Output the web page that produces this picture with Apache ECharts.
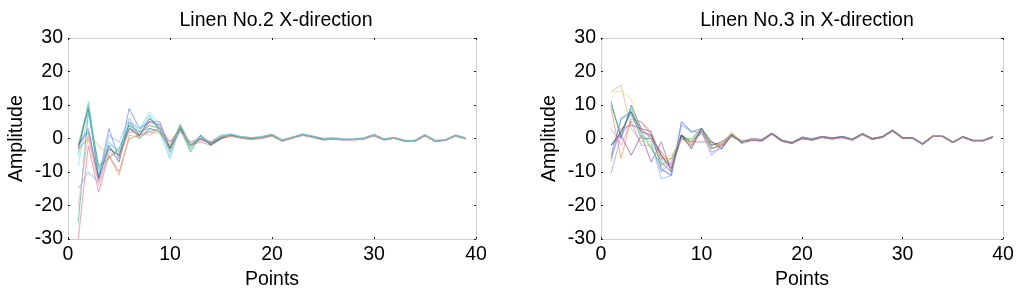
<!DOCTYPE html>
<html>
<head>
<meta charset="utf-8">
<script src="https://cdn.jsdelivr.net/npm/echarts@6/dist/echarts.min.js"></script>
<style>
  html, body { margin: 0; padding: 0; background: #fff; }
  #chart { width: 1024px; height: 295px; }
</style>
</head>
<body>
<div id="chart"></div>
<script>
// sample index along each trace
const points = [1, 2, 3, 4, 5, 6, 7, 8, 9, 10, 11, 12, 13, 14, 15, 16, 17, 18, 19, 20,
  21, 22, 23, 24, 25, 26, 27, 28, 29, 30, 31, 32, 33, 34, 35, 36, 37, 38, 39];

const xTicks = [0, 10, 20, 30, 40];
const yTicks = [-30, -20, -10, 0, 10, 20, 30];

const titleLeft = "Linen No.2 X-direction";
const titleRight = "Linen No.3 in X-direction";

// Linen No.2, X-direction traces
const linen2_a = [-2, 2, -12, 3, -6, 9, 3, 5, 4, -3, 4, -2, 0, -1.5, 0.5, 1.2, 0.3, 0, 0.4, 1.1, -0.5, 0.3, 1.2, 0.6, -0.2, 0, -0.3, -0.2, 0, 1.0, -0.3, 0.2, -0.7, -0.7, 1.0, -0.7, -0.5, 0.9, 0];
const linen2_b = [-2, 10, -9, -3, -5, 3, 1, 4, 3, -4, 3, -3, 1, -2, 0, 1.0, 0.5, 0.2, 0.3, 1.0, -0.6, 0.2, 1.1, 0.5, -0.1, 0.1, -0.3, -0.3, 0.1, 1.1, -0.2, 0.2, -0.6, -0.8, 0.9, -0.7, -0.4, 0.9, 0.1];
const linen2_c = [-30, -2, -16, -5, -10, 0, 1, 2, 3, -1, 3, -2, -1, -2, 0, 0.6, 0.2, -0.3, 0.1, 0.8, -0.8, 0.1, 1.0, 0.4, -0.4, -0.2, -0.4, -0.4, -0.1, 0.8, -0.4, 0.1, -0.8, -0.8, 0.8, -0.8, -0.6, 0.8, -0.1];
const linen2_d = [-5, 11, -11, -1, -4, 4, 2, 7, 2, -6, 4, -2, 0, -1, 1, 1.3, 0.4, 0.1, 0.5, 1.3, -0.5, 0.4, 1.3, 0.6, -0.1, 0.1, -0.2, -0.2, 0.1, 1.2, -0.2, 0.3, -0.6, -0.6, 1.1, -0.6, -0.4, 1.0, 0.1];
const linen2_e = [-3, 9, -12, -2, -7, 5, 1, 6, 3, -3, 3, -2, 0, -1.5, 0, 1.0, 0.3, 0, 0.3, 1.0, -0.6, 0.3, 1.2, 0.5, -0.2, 0, -0.3, -0.3, 0, 1.0, -0.3, 0.2, -0.7, -0.7, 1.0, -0.7, -0.5, 0.9, 0];
const linen2_f = [-4, 1, -2, -5, -4, 2, 2, 4, 3, -2, 3.5, -1.5, 0.5, -1, 0.5, 0.9, 0.5, 0.2, 0.5, 1.4, -0.4, 0.5, 1.0, 0.7, 0, 0.2, -0.1, -0.2, 0.2, 1.1, -0.1, 0.3, -0.5, -0.6, 1.0, -0.6, -0.4, 1.0, 0.2];
const linen2_g = [-2, 3, -12, -3, -5, 3, 1, 5, 5, -3, 4, -2, 0, -1.5, 0.5, 1.1, 0.3, 0.1, 0.3, 0.9, -0.7, 0.3, 1.2, 0.5, -0.3, 0, -0.3, -0.3, 0, 1.0, -0.3, 0.1, -0.7, -0.7, 1.0, -0.8, -0.5, 0.9, 0];
const linen2_h = [-15, -10, -13, 1, -1, 6, 2, 3, 2, -1, 2, -1, 0.5, -1, 0.5, 1.2, 0.6, 0.3, 0.6, 1.2, -0.4, 0.4, 1.4, 0.8, 0.1, 0.2, -0.1, -0.1, 0.2, 1.2, -0.1, 0.3, -0.5, -0.5, 1.2, -0.5, -0.3, 1.1, 0.2];
const linen2_i = [-25, 8, -8, -6, -3, 4, 0, 3, 2, -3, 3, -4, 1, -2, 0, 1.0, 0.2, -0.1, 0.2, 0.9, -0.7, 0.2, 1.1, 0.4, -0.3, -0.1, -0.4, -0.3, -0.1, 0.9, -0.4, 0.1, -0.8, -0.7, 0.9, -0.8, -0.5, 0.8, -0.1];
const linen2_j = [-3, 0, -13, -5, -11, 1, 0.5, 2, 1.5, -2, 4, -2, -0.5, -1.5, 0.5, 0.8, 0.1, -0.2, 0.2, 0.8, -0.6, 0.2, 1.0, 0.4, -0.3, -0.1, -0.3, -0.4, -0.1, 0.9, -0.3, 0.1, -0.7, -0.8, 0.9, -0.7, -0.6, 0.8, 0];
const linen2_k = [-20, 1, -14, -4, -6, 2, 1.5, 1, 3, -4, 2, -1, 0, -1, 1, 0.6, 0.1, -0.4, 0, 0.7, -0.8, 0, 0.9, 0.3, -0.5, -0.2, -0.5, -0.4, -0.2, 0.8, -0.5, 0, -0.8, -0.9, 0.8, -0.8, -0.6, 0.7, -0.1];
const linen2_l = [-8, 8, -10, -2, -3, 5, 3, 8, 4, -5, 4.5, -2, 0.5, -1, 1, 1.4, 0.5, 0.2, 0.5, 1.2, -0.5, 0.4, 1.3, 0.7, 0, 0.1, -0.2, -0.2, 0.1, 1.1, -0.2, 0.3, -0.6, -0.6, 1.1, -0.6, -0.4, 1.0, 0.1];

// Linen No.3, X-direction traces
const linen3_a = [11, 0, 10, 3, 2, -9, -11, 5, 2, 3, -3, -2, 1, -1, -0.5, -0.5, 1.5, -0.6, -1.3, 0.2, -0.3, 0.5, 0, 0.5, -0.3, 1.4, -0.1, 0.5, 2.4, 0.2, 0.2, -1.6, 0.7, 0.7, -1.1, 0.5, -0.6, -0.6, 0.5];
const linen3_b = [14, 16, 3, -1, 1, -6, -6, 1, -2, 3, -2, -1, 1.5, -1, 0, -0.3, 1.6, -0.5, -1.2, 0.3, -0.2, 0.6, 0.1, 0.6, -0.2, 1.5, 0, 0.6, 2.5, 0.3, 0.3, -1.5, 0.8, 0.8, -1.0, 0.6, -0.5, -0.5, 0.6];
const linen3_c = [9, -6, 6, 5, 1, -5, -9, 1, -2, 2, -3, -2, 1, -1, -0.5, -0.7, 1.4, -0.8, -1.4, 0, -0.5, 0.3, -0.2, 0.3, -0.5, 1.2, -0.3, 0.3, 2.3, 0, 0.1, -1.7, 0.6, 0.6, -1.2, 0.4, -0.7, -0.7, 0.4];
const linen3_d = [-2, 1, -5, 1, -7, -1, -10, 1, -1, 2, -2, -1, 1, -1, 0, -0.4, 1.5, -0.6, -1.3, 0.3, -0.2, 0.6, 0.1, 0.4, -0.2, 1.3, 0, 0.5, 2.4, 0.2, 0.2, -1.6, 0.7, 0.7, -1.1, 0.5, -0.6, -0.6, 0.5];
const linen3_e = [-5, 6, 8, 0, 0, -7, -10, 1, -1, 3, -3, -2, 1.5, -1.5, -0.5, -0.6, 1.4, -0.7, -1.4, 0.1, -0.4, 0.4, -0.1, 0.5, -0.4, 1.3, -0.2, 0.4, 2.3, 0.1, 0.1, -1.7, 0.6, 0.6, -1.1, 0.4, -0.6, -0.7, 0.4];
const linen3_f = [-10.5, 1, 5, -2, -2, -10, -7, 0, -1, 2, -5, -2, 1, -1, 0, -0.2, 1.5, -0.5, -1.1, 0.5, 0, 0.7, 0.2, 0.7, -0.1, 1.4, 0.1, 0.6, 2.5, 0.3, 0.3, -1.5, 0.7, 0.7, -1.0, 0.5, -0.5, -0.5, 0.5];
const linen3_g = [10, 1, 9, 2, -3, -8, -6, 0, 0, 3, -2, -1.5, 0.5, -1, -0.5, -0.5, 1.3, -0.7, -1.5, 0, -0.4, 0.4, 0, 0.4, -0.3, 1.3, -0.1, 0.4, 2.4, 0.2, 0.1, -1.7, 0.7, 0.6, -1.2, 0.5, -0.6, -0.6, 0.5];
const linen3_h = [-6, 3, 4, 3, 0, -4, -8, 0, -1, -1, -1, -2, 1, -0.5, -0.5, -0.8, 1.4, -0.9, -1.5, -0.1, -0.5, 0.3, -0.2, 0.3, -0.5, 1.1, -0.3, 0.3, 2.2, 0.1, 0, -1.7, 0.6, 0.6, -1.2, 0.4, -0.7, -0.7, 0.4];
const linen3_i = [-7, 6, 7, 1, -1, -12, -11, 4, 2, 2, -4, -3, 1, -1, 0, -0.4, 1.6, -0.5, -1.2, 0.4, -0.1, 0.6, 0.2, 0.6, -0.2, 1.5, 0, 0.5, 2.4, 0.3, 0.2, -1.5, 0.8, 0.7, -1.0, 0.6, -0.5, -0.5, 0.6];
const linen3_j = [14, 14, 12, 0, -2, -6, -5, 0, -1, 3, -3, -2, 2, -1, 0, -0.5, 1.5, -0.6, -1.3, 0.2, -0.3, 0.5, 0, 0.5, -0.3, 1.4, -0.1, 0.5, 2.4, 0.2, 0.2, -1.6, 0.7, 0.7, -1.1, 0.5, -0.6, -0.6, 0.5];
const linen3_k = [-2, 2, 8, 2, 1, -5, -9, 1, -3, 3, -1, -3, 1, -1, -0.5, -0.6, 1.5, -0.6, -1.3, 0.2, -0.3, 0.5, 0.1, 0.5, -0.3, 1.4, -0.1, 0.5, 2.5, 0.2, 0.2, -1.6, 0.7, 0.7, -1.1, 0.5, -0.6, -0.6, 0.5];
const linen3_l = [3, -2, 5, 5, 2, -6, -9, 0, -2, 2, -3, -2, 1, -1, -0.5, -0.7, 1.3, -0.8, -1.4, 0, -0.4, 0.4, -0.1, 0.3, -0.4, 1.2, -0.2, 0.4, 2.3, 0.1, 0.1, -1.6, 0.6, 0.6, -1.1, 0.4, -0.7, -0.6, 0.4];

const leftTraces = [linen2_a, linen2_b, linen2_c, linen2_d, linen2_e, linen2_f,
  linen2_g, linen2_h, linen2_i, linen2_j, linen2_k, linen2_l];
const rightTraces = [linen3_a, linen3_b, linen3_c, linen3_d, linen3_e, linen3_f,
  linen3_g, linen3_h, linen3_i, linen3_j, linen3_k, linen3_l];

const leftColors = ["#4f6fe0", "#3cb44b", "#e06080", "#30c8e0", "#3a4a6a", "#b8d060",
  "#9050b0", "#80a8f0", "#20a080", "#d0a050", "#f0a0c0", "#70d8e8"];
const rightColors = ["#3050e0", "#c8b060", "#e08040", "#9040a0", "#209090", "#a080e0",
  "#40c040", "#e05060", "#70a0f0", "#e0e060", "#203080", "#e090b0"];

const FONT = "Arial, 'Liberation Sans', sans-serif";
const FS = 19.5;

function makeSeries(traces, colors, idx) {
  return traces.map(function (vals, i) {
    return {
      type: "line",
      xAxisIndex: idx * 2,
      yAxisIndex: idx * 2,
      symbol: "none",
      silent: true,
      lineStyle: { width: 1.1, color: colors[i], opacity: 0.55 },
      data: points.map(function (p, j) { return [p, vals[j]]; })
    };
  });
}

function xAxes(gridIndex) {
  const base = {
    type: "value", gridIndex: gridIndex, min: xTicks[0], max: xTicks[xTicks.length - 1], interval: 10,
    axisLine: { show: true, onZero: false, lineStyle: { color: "#d0d0d0", width: 1 } },
    axisTick: { show: true, inside: true, length: 2, lineStyle: { color: "#222" } },
    splitLine: { show: false }
  };
  return [
    Object.assign({}, base, {
      position: "bottom",
      name: "Points", nameLocation: "middle", nameGap: 28,
      nameTextStyle: { color: "#000", fontSize: FS, fontFamily: FONT },
      axisLabel: { color: "#000", fontSize: FS, fontFamily: FONT, margin: 6 }
    }),
    Object.assign({}, base, { position: "top", axisLabel: { show: false } })
  ];
}

function yAxes(gridIndex) {
  const base = {
    type: "value", gridIndex: gridIndex, min: yTicks[0], max: yTicks[yTicks.length - 1], interval: 10,
    axisLine: { show: true, onZero: false, lineStyle: { color: "#d0d0d0", width: 1 } },
    axisTick: { show: true, inside: true, length: 2, lineStyle: { color: "#222" } },
    splitLine: { show: false }
  };
  return [
    Object.assign({}, base, {
      position: "left",
      name: "Amplitude", nameLocation: "middle", nameGap: 41, nameRotate: 90,
      nameTextStyle: { color: "#000", fontSize: FS, fontFamily: FONT },
      axisLabel: { color: "#000", fontSize: FS, fontFamily: FONT, margin: 5 }
    }),
    Object.assign({}, base, { position: "right", axisLabel: { show: false } })
  ];
}

const chart = echarts.init(document.getElementById("chart"), null, { renderer: "canvas" });
chart.setOption({
  animation: false,
  backgroundColor: "#fff",
  title: [
    { text: titleLeft, left: 271, top: 6, textAlign: "center",
      textStyle: { color: "#000", fontSize: FS, fontWeight: "normal", fontFamily: FONT } },
    { text: titleRight, left: 802, top: 6, textAlign: "center",
      textStyle: { color: "#000", fontSize: FS, fontWeight: "normal", fontFamily: FONT } }
  ],
  grid: [
    { left: 68, right: 548, top: 38, bottom: 55 },
    { left: 601, right: 21, top: 38, bottom: 55 }
  ],
  xAxis: xAxes(0).concat(xAxes(1)),
  yAxis: yAxes(0).concat(yAxes(1)),
  series: makeSeries(leftTraces, leftColors, 0).concat(makeSeries(rightTraces, rightColors, 1))
});
</script>
</body>
</html>
